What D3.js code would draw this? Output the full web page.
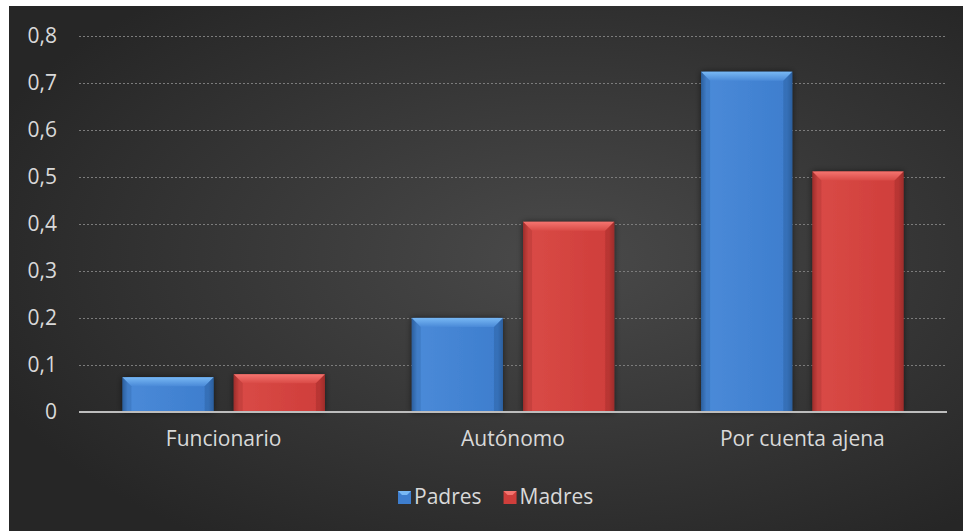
<!DOCTYPE html>
<html>
<head>
<meta charset="utf-8">
<script src="https://cdn.jsdelivr.net/npm/d3@7"></script>
<style>
  html, body { margin: 0; padding: 0; background: #ffffff; }
  svg { display: block; }
  text { font-family: "Open Sans", "DejaVu Sans", sans-serif; fill: #d9d9d9; }
</style>
</head>
<body>
<svg id="chart" width="963" height="531"></svg>
<script>
const categories = ["Funcionario", "Autónomo", "Por cuenta ajena"];
const seriesNames = ["Padres", "Madres"];
const padres = [0.074, 0.2, 0.723];
const madres = [0.08, 0.404, 0.511];
const yTicks = [0, 0.1, 0.2, 0.3, 0.4, 0.5, 0.6, 0.7, 0.8];
const tickLabels = ["0", "0,1", "0,2", "0,3", "0,4", "0,5", "0,6", "0,7", "0,8"];

const seriesValues = [padres, madres];
const palette = {
  Padres: { main: "#3e7ece", light: "#78b8f4", dark: "#2c5f9e", mid: "#4a8ad8" },
  Madres: { main: "#cf3e3b", light: "#f4746f", dark: "#9e2d2b", mid: "#d94a46" }
};
const FS = 21;

const W = 963, H = 531;
const svg = d3.select("#chart");
const defs = svg.append("defs");

// Background
const bg = defs.append("radialGradient").attr("id", "bg")
  .attr("cx", "58%").attr("cy", "48%").attr("r", "65%");
bg.append("stop").attr("offset", "0%").attr("stop-color", "#4a4a4a");
bg.append("stop").attr("offset", "100%").attr("stop-color", "#262626");
svg.append("rect").attr("x", 9).attr("y", 6).attr("width", W - 9).attr("height", H - 6)
  .attr("fill", "url(#bg)");

// Shadow filter
const f = defs.append("filter").attr("id", "shadow").attr("x", "-20%").attr("y", "-20%")
  .attr("width", "140%").attr("height", "140%");
f.append("feDropShadow").attr("dx", 0).attr("dy", 0).attr("stdDeviation", 3)
  .attr("flood-color", "#000").attr("flood-opacity", 0.55);

// Bar gradients
seriesNames.forEach(s => {
  const g = defs.append("linearGradient").attr("id", "grad-" + s)
    .attr("x1", "0%").attr("x2", "100%").attr("y1", "0%").attr("y2", "0%");
  g.append("stop").attr("offset", "0%").attr("stop-color", palette[s].dark);
  g.append("stop").attr("offset", "6%").attr("stop-color", palette[s].mid);
  g.append("stop").attr("offset", "94%").attr("stop-color", palette[s].main);
  g.append("stop").attr("offset", "100%").attr("stop-color", palette[s].dark);
  const t = defs.append("linearGradient").attr("id", "top-" + s)
    .attr("x1", "0%").attr("x2", "0%").attr("y1", "0%").attr("y2", "100%");
  t.append("stop").attr("offset", "0%").attr("stop-color", palette[s].light);
  t.append("stop").attr("offset", "100%").attr("stop-color", palette[s].mid);
});

const plot = { left: 79, right: 947, top: 35.5, bottom: 412 };

const y = d3.scaleLinear().domain([0, 0.8]).range([plot.bottom, plot.top]);
const x0 = d3.scaleBand().domain(categories).range([plot.left, plot.right]).padding(0);
const bw0 = x0.bandwidth();
const x1 = d3.scaleBand().domain(seriesNames)
  .range([bw0 * 0.15, bw0 * 0.85]).paddingInner(0.18).paddingOuter(0);

// Gridlines
const grid = svg.append("g");
grid.selectAll("line").data(yTicks.filter(d => d > 0)).join("line")
  .attr("x1", plot.left).attr("x2", plot.right)
  .attr("y1", d => Math.round(y(d)) + 0.5).attr("y2", d => Math.round(y(d)) + 0.5)
  .attr("stroke", "#7c7c7c").attr("stroke-width", 1).attr("stroke-dasharray", "2,2");

// Y axis labels
const yAxis = d3.axisLeft(y).tickValues(yTicks)
  .tickFormat((d, i) => tickLabels[i]).tickSize(0).tickPadding(22);
const yg = svg.append("g").attr("transform", `translate(${plot.left},0)`).call(yAxis);
yg.select(".domain").remove();
yg.selectAll("text").attr("font-size", FS).attr("fill", "#d9d9d9")
  .style("font-family", '"Open Sans", sans-serif');

// Bars
const groups = svg.append("g").selectAll("g").data(categories).join("g")
  .attr("transform", d => `translate(${x0(d)},0)`);

groups.each(function(cat, ci) {
  const g = d3.select(this);
  seriesNames.forEach((s, si) => {
    const v = seriesValues[si][ci];
    const bx = x1(s), bw = x1.bandwidth();
    const by = y(v), bh = y(0) - y(v);
    const bar = g.append("g");
    bar.append("rect").attr("x", bx).attr("y", by).attr("width", bw).attr("height", bh)
      .attr("fill", "url(#grad-" + s + ")").attr("filter", "url(#shadow)");
    const bev = Math.min(9, bh);
    bar.append("path")
      .attr("d", `M${bx},${by} L${bx + bw},${by} L${bx + bw - bev},${by + bev} L${bx + bev},${by + bev} Z`)
      .attr("fill", "url(#top-" + s + ")");
    bar.append("path")
      .attr("d", `M${bx},${by} L${bx + bev},${by + bev} L${bx + bev},${by + bh} L${bx},${by + bh} Z`)
      .attr("fill", palette[s].dark).attr("opacity", 0.3);
    bar.append("path")
      .attr("d", `M${bx + bw},${by} L${bx + bw - bev},${by + bev} L${bx + bw - bev},${by + bh} L${bx + bw},${by + bh} Z`)
      .attr("fill", palette[s].dark).attr("opacity", 0.45);
  });
});

// Baseline
svg.append("line").attr("x1", plot.left).attr("x2", plot.right)
  .attr("y1", y(0)).attr("y2", y(0))
  .attr("stroke", "#bdbdbd").attr("stroke-width", 2);

// X axis labels
const xAxis = d3.axisBottom(x0).tickSize(0).tickPadding(19);
const xg = svg.append("g").attr("transform", `translate(0,${plot.bottom})`).call(xAxis);
xg.select(".domain").remove();
xg.selectAll("text").attr("font-size", FS).attr("fill", "#d9d9d9")
  .style("font-family", '"Open Sans", sans-serif');

// Legend
const legend = svg.append("g").attr("transform", "translate(398,497)");
let lx = 0;
seriesNames.forEach((s, i) => {
  const item = legend.append("g").attr("transform", `translate(${lx},0)`);
  item.append("rect").attr("x", 0).attr("y", -6).attr("width", 13).attr("height", 13)
    .attr("fill", palette[s].main);
  item.append("path").attr("d", "M0,-6 L13,-6 L9,-2 L4,-2 Z").attr("fill", palette[s].light);
  const t = item.append("text").attr("x", 16).attr("y", 0).attr("dy", "0.35em")
    .attr("font-size", FS).text(s);
  lx += 16 + t.node().getComputedTextLength() + 22;
});
</script>
</body>
</html>
